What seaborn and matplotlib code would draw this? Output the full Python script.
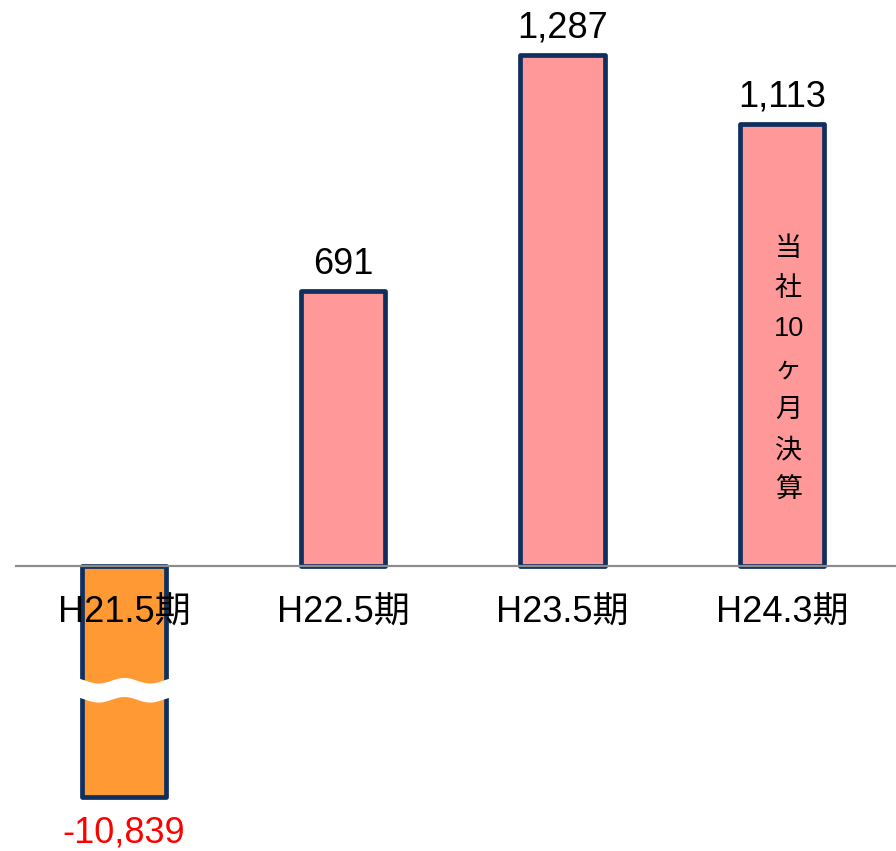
import numpy as np
import matplotlib
matplotlib.use("Agg")
import matplotlib.pyplot as plt
import seaborn as sns

# data
periods = ["H21.5期", "H22.5期", "H23.5期", "H24.3期"]
values = [-10839, 691, 1287, 1113]
value_labels = ["-10,839", "691", "1,287", "1,113"]
bar_colors = ["#FF9933", "#FF9999", "#FF9999", "#FF9999"]
note_text = ["当", "社", "10", "ヶ", "月", "決", "算"]

# the negative bar is drawn broken, shortened to this depth
break_floor = -582

sns.set_theme(style="white")
plt.rcParams["font.family"] = ["Liberation Sans", "Noto Sans CJK JP", "DejaVu Sans"]

fig = plt.figure(figsize=(8.96, 8.51), dpi=100)
ax = fig.add_axes([0, 0, 1, 1])

shown = [max(v, break_floor) for v in values]
sns.barplot(x=periods, y=shown, hue=periods, palette=bar_colors, legend=False,
            saturation=1, width=0.385, edgecolor="#0F2F5F", linewidth=3.4,
            ax=ax, zorder=2)
for p in ax.patches:
    p.set_joinstyle("round")

ax.set_xlim(-0.565, 3.52)
ax.set_ylim(-718, 1425)
ax.axis("off")

# zero line
ax.hlines(0, -0.497, 3.52, color="#8C8C8C", linewidth=1.6, zorder=3)

# break mark on the negative bar
xs = np.linspace(-0.235, 0.235, 200)
wave = 7 * np.sin((xs + 0.235) / 0.47 * 2 * np.pi * 2 + np.pi / 2)
ax.fill_between(xs, -288 + wave, -336 + wave, color="white", zorder=4, lw=0)

# category labels
for i, lab in enumerate(periods):
    ax.text(i, -118, lab, ha="center", va="center", fontsize=26, color="black", zorder=5)

# value labels
for i, (v, s) in enumerate(zip(shown, value_labels)):
    if v >= 0:
        ax.annotate(s, (i, v), xytext=(0, 7), textcoords="offset points",
                    ha="center", va="bottom", fontsize=26, color="black")
    else:
        ax.annotate(s, (i, v), xytext=(0, -13), textcoords="offset points",
                    ha="center", va="top", fontsize=26, color="red")

# vertical note in the last bar
ax.text(3.03, 494, "\n".join(note_text), ha="center", va="center",
        fontsize=19.5, linespacing=1.72, color="black", zorder=5)

fig.savefig("out.png", dpi=100)
